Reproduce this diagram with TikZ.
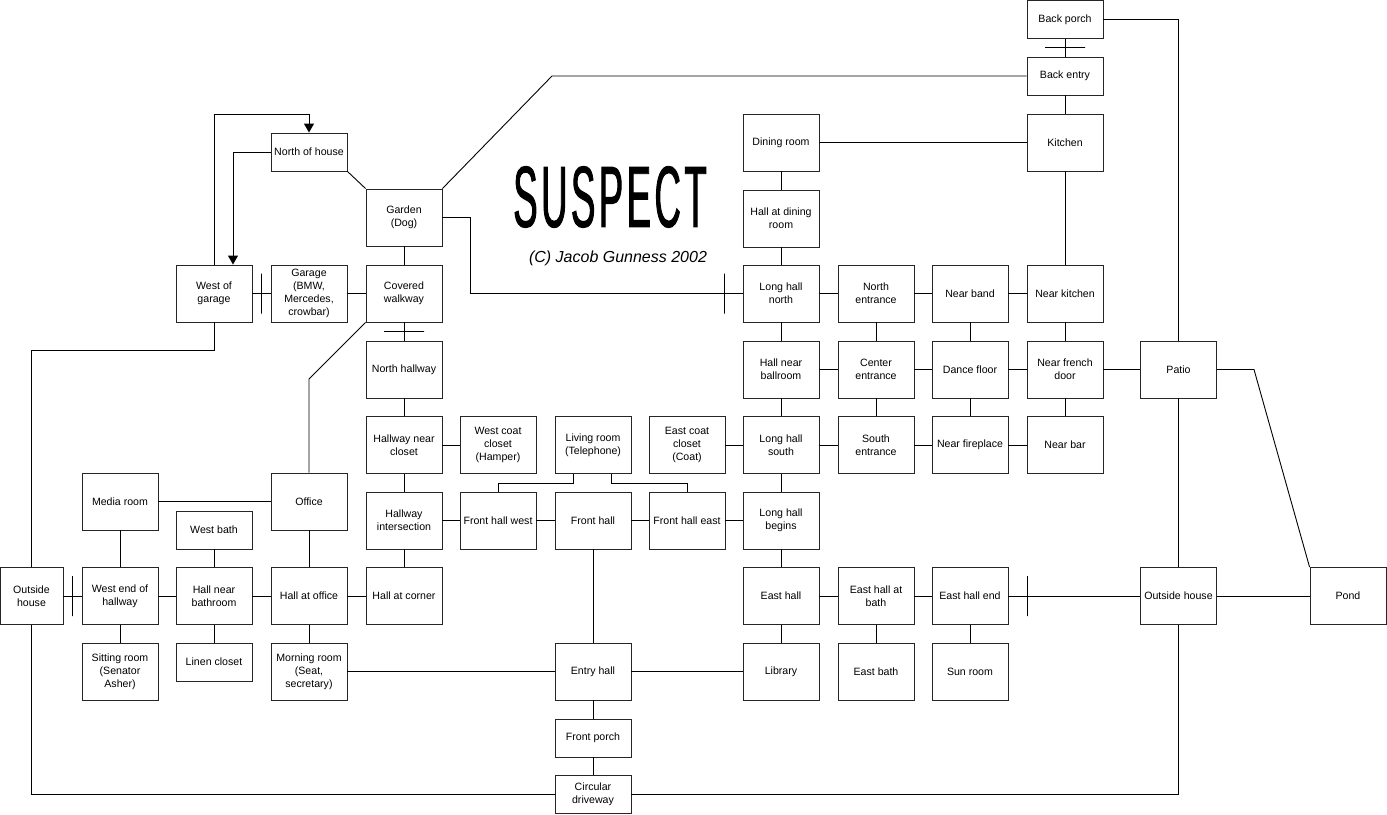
\documentclass[tikz,border=0pt]{standalone}
\usepackage{fontspec}
\setmainfont{Liberation Sans}
\newfontfamily\titlefont[FakeStretch=0.42,FakeBold=1,LetterSpace=4]{Liberation Sans}
\usetikzlibrary{arrows.meta}
\begin{document}
\begin{tikzpicture}[x=1pt,y=-1pt,
  room/.style={draw=black!85,line width=0.9pt,rectangle,minimum width=76pt,minimum height=57pt,
    inner sep=0pt,align=center,font=\fontsize{10.6}{12.9}\selectfont},
  small/.style={room,minimum height=38pt},
  link/.style={draw=black,line width=0.9pt},
  arr/.style={link,-{Triangle[width=10pt,length=9pt]}},
  vtick/.style={draw=black,line width=0.9pt,rectangle,minimum width=0pt,minimum height=40pt,inner sep=0pt},
  htick/.style={draw=black,line width=0.9pt,rectangle,minimum width=40pt,minimum height=0pt,inner sep=0pt}]
\useasboundingbox (0,0) rectangle (1387,814);
\fill[white] (0,0) rectangle (1387,814);

% title
\node[inner sep=0pt] (title) at (610,197) {\titlefont\fontsize{87}{87}\selectfont SUSPECT};
\node[inner sep=0pt,font=\fontsize{16}{18}\selectfont\itshape] (copy) at (618,258) {(C) Jacob Gunness 2002};

% west part
\node[room,minimum width=63pt] (outw) at (31.5,596) {Outside\\house};
\node[room] (wg) at (214,293.5) {West of\\garage};
\node[room] (gar) at (309,293.5) {Garage\\(BMW,\\Mercedes,\\crowbar)};
\node[room] (cw) at (404,293.5) {Covered\\walkway};
\node[small] (nh) at (309,152) {North of house};
\node[room] (gdn) at (404,217.5) {Garden\\(Dog)};
\node[room] (nhw) at (404,369.5) {North hallway};
\node[room] (hnc) at (404,445) {Hallway near\\closet};
\node[room] (hi) at (404,520.5) {Hallway\\intersection};
\node[room] (hac) at (404,596) {Hall at corner};
\node[room] (media) at (120,501.5) {Media room};
\node[room] (office) at (309,501.5) {Office};
\node[small] (wbath) at (214,530) {West bath};
\node[room] (weh) at (120,596) {West end of\\hallway};
\node[room] (hnb) at (214,596) {Hall near\\bathroom};
\node[room] (hao) at (309,596) {Hall at office};
\node[room] (sit) at (120,671.5) {Sitting room\\(Senator\\Asher)};
\node[small] (linen) at (214,662) {Linen closet};
\node[room] (morn) at (309,671.5) {Morning room\\(Seat,\\secretary)};

% centre
\node[room] (wcc) at (498,445) {West coat\\closet\\(Hamper)};
\node[room] (liv) at (593,445) {Living room\\(Telephone)};
\node[room] (ecc) at (687,445) {East coat\\closet\\(Coat)};
\node[room] (fhw) at (498,520.5) {Front hall west};
\node[room] (fh) at (593,520.5) {Front hall};
\node[room] (fhe) at (687,520.5) {Front hall east};
\node[room] (entry) at (593,671.5) {Entry hall};
\node[small] (fporch) at (593,738) {Front porch};
\node[small] (circ) at (593,794.5) {Circular\\driveway};

% east part
\node[small] (bporch) at (1065,19.5) {Back porch};
\node[small] (bentry) at (1065,76) {Back entry};
\node[room] (kitchen) at (1065,142.5) {Kitchen};
\node[room] (dining) at (781,142.5) {Dining room};
\node[room] (hdr) at (781,218.5) {Hall at dining\\room};
\node[room] (lhn) at (781,293.5) {Long hall\\north};
\node[room] (nent) at (876,293.5) {North\\entrance};
\node[room] (nband) at (970,293.5) {Near band};
\node[room] (nkit) at (1065,293.5) {Near kitchen};
\node[room] (hnbr) at (781,369.5) {Hall near\\ballroom};
\node[room] (cent) at (876,369.5) {Center\\entrance};
\node[room] (dance) at (970,369.5) {Dance floor};
\node[room] (nfd) at (1065,369.5) {Near french\\door};
\node[room] (patio) at (1178.5,369.5) {Patio};
\node[room] (lhs) at (781,445) {Long hall\\south};
\node[room] (sent) at (876,445) {South\\entrance};
\node[room] (nfire) at (970,445) {Near fireplace};
\node[room] (nbar) at (1065,445) {Near bar};
\node[room] (lhb) at (781,520.5) {Long hall\\begins};
\node[room] (eh) at (781,596) {East hall};
\node[room] (ehb) at (876,596) {East hall at\\bath};
\node[room] (ehe) at (970,596) {East hall end};
\node[room] (oute) at (1178.5,596) {Outside house};
\node[room] (pond) at (1348,596) {Pond};
\node[room] (lib) at (781,671.5) {Library};
\node[room] (ebath) at (876,671.5) {East bath};
\node[room] (sun) at (970,671.5) {Sun room};

% connectors: west
\draw[arr] (wg.north) |- (309,114) -- (nh.north);
\draw[arr] (nh.west) -| ([xshift=19pt]wg.north);
\draw[link] (wg.east) -- node[vtick] (t1) {} (gar.west);
\draw[link] (gar.east) -- (cw.west);
\draw[link] (nh.south east) -- (gdn.north west);
\draw[link] (gdn.south) -- (cw.north);
\draw[link] (gdn.north east) -- (552,76) -- (bentry.west);
\coordinate (gturn) at (470,217.5);
\draw[link] (gdn.east) -- (gturn) |- (lhn.west);
\node[vtick] (t4) at ([xshift=-18pt]lhn.west) {};
\draw[link] (cw.south) -- node[htick] (t2) {} (nhw.north);
\draw[link] (cw.south west) -- (309,379) -- (office.north);
\draw[link] (wg.south) |- (31.5,350) -- (outw.north);
\draw[link] (nhw.south) -- (hnc.north);
\draw[link] (hnc.east) -- (wcc.west);
\draw[link] (hnc.south) -- (hi.north);
\draw[link] (hi.east) -- (fhw.west);
\draw[link] (hi.south) -- (hac.north);
\draw[link] (media.east) -- (office.west);
\draw[link] (media.south) -- (weh.north);
\draw[link] (wbath.south) -- (hnb.north);
\draw[link] (office.south) -- (hao.north);
\draw[link] (outw.east) -- node[vtick] (t3) {} (weh.west);
\draw[link] (weh.east) -- (hnb.west);
\draw[link] (hnb.east) -- (hao.west);
\draw[link] (hao.east) -- (hac.west);
\draw[link] (weh.south) -- (sit.north);
\draw[link] (hnb.south) -- (linen.north);
\draw[link] (hao.south) -- (morn.north);
\draw[link] (morn.east) -- (entry.west);
\draw[link] (outw.south) |- (circ.west);

% centre
\draw[link] ([xshift=-19.5pt]liv.south) |- (498,483) -- (fhw.north);
\draw[link] ([xshift=18pt]liv.south) |- (687,483) -- (fhe.north);
\draw[link] (fhw.east) -- (fh.west);
\draw[link] (fh.east) -- (fhe.west);
\draw[link] (fhe.east) -- (lhb.west);
\draw[link] (fh.south) -- (entry.north);
\draw[link] (entry.south) -- (fporch.north);
\draw[link] (fporch.south) -- (circ.north);
\draw[link] (circ.east) -| (oute.south);
\draw[link] (entry.east) -- (lib.west);
\draw[link] (ecc.east) -- (lhs.west);

% east
\draw[link] (bporch.east) -| (patio.north);
\draw[link] (bporch.south) -- node[htick] (t5) {} (bentry.north);
\draw[link] (bentry.south) -- (kitchen.north);
\draw[link] (dining.east) -- (kitchen.west);
\draw[link] (kitchen.south) -- (nkit.north);
\draw[link] (dining.south) -- (hdr.north);
\draw[link] (hdr.south) -- (lhn.north);
\draw[link] (lhn.east) -- (nent.west);
\draw[link] (nent.east) -- (nband.west);
\draw[link] (nband.east) -- (nkit.west);
\draw[link] (lhn.south) -- (hnbr.north);
\draw[link] (nent.south) -- (cent.north);
\draw[link] (nband.south) -- (dance.north);
\draw[link] (nkit.south) -- (nfd.north);
\draw[link] (hnbr.east) -- (cent.west);
\draw[link] (cent.east) -- (dance.west);
\draw[link] (dance.east) -- (nfd.west);
\draw[link] (nfd.east) -- (patio.west);
\draw[link] (hnbr.south) -- (lhs.north);
\draw[link] (cent.south) -- (sent.north);
\draw[link] (dance.south) -- (nfire.north);
\draw[link] (nfd.south) -- (nbar.north);
\draw[link] (lhs.east) -- (sent.west);
\draw[link] (sent.east) -- (nfire.west);
\draw[link] (nfire.east) -- (nbar.west);
\draw[link] (lhs.south) -- (lhb.north);
\draw[link] (lhb.south) -- (eh.north);
\draw[link] (eh.east) -- (ehb.west);
\draw[link] (ehb.east) -- (ehe.west);
\draw[link] (ehe.east) -- (oute.west);
\node[vtick] (t6) at ([xshift=19pt]ehe.east) {};
\draw[link] (oute.east) -- (pond.west);
\draw[link] (patio.south) -- (oute.north);
\draw[link] (patio.east) -- (1254,369.5) -- (pond.north west);
\draw[link] (eh.south) -- (lib.north);
\draw[link] (ehb.south) -- (ebath.north);
\draw[link] (ehe.south) -- (sun.north);
\end{tikzpicture}
\end{document}
